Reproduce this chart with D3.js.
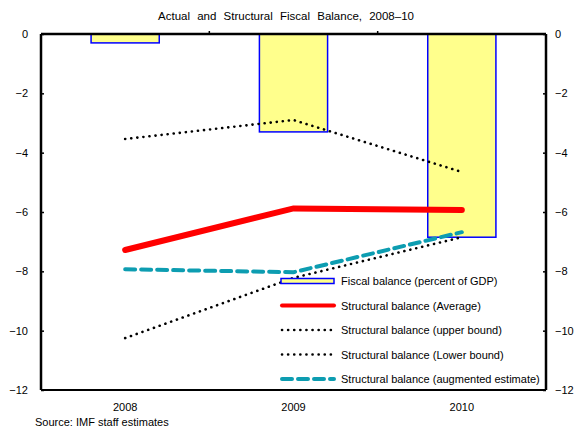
<!DOCTYPE html>
<html>
<head>
<meta charset="utf-8">
<script src="https://cdn.jsdelivr.net/npm/d3@7"></script>
<style>
  body { margin: 0; background: #fff; }
  text { font-family: "Liberation Sans", Arial, sans-serif; }
</style>
</head>
<body>
<script>
// data
const years = ["2008", "2009", "2010"];
const fiscalBalance = [-0.3, -3.3, -6.85];
const structAverage = [-7.28, -5.88, -5.93];
const structUpper = [-3.54, -2.9, -4.65];
const structLower = [-10.25, -8.22, -6.85];
const structAugmented = [-7.93, -8.03, -6.68];
const yTicks = [0, -2, -4, -6, -8, -10, -12];

const legendItems = [
  { label: "Fiscal balance (percent of GDP)", type: "bar" },
  { label: "Structural balance (Average)", type: "line", color: "#ff0000", width: 6, dash: null },
  { label: "Structural balance (upper bound)", type: "line", color: "#000", width: 2.6, dash: "0.1 6" },
  { label: "Structural balance (Lower bound)", type: "line", color: "#000", width: 2.6, dash: "0.1 6" },
  { label: "Structural balance (augmented estimate)", type: "line", color: "#0d9db1", width: 4, dash: "10 6" }
];

function draw() {
  const W = 578, H = 429;
  const margin = { top: 34, right: 32, bottom: 39, left: 41 };
  const width = W - margin.left - margin.right,
        height = H - margin.top - margin.bottom;

  const svg = d3.select("body").append("svg")
    .attr("width", W).attr("height", H);

  svg.append("text")
    .attr("x", 286).attr("y", 20)
    .attr("text-anchor", "middle")
    .attr("font-size", 11.5)
    .attr("word-spacing", 4)
    .text("Actual and Structural Fiscal Balance, 2008\u201310");

  const g = svg.append("g")
    .attr("transform", "translate(" + margin.left + "," + margin.top + ")");

  const x = d3.scaleBand().domain(years).range([0, width]).padding(0);
  const y = d3.scaleLinear().domain([-12, 0]).range([height, 0]);
  const cx = d => x(d) + x.bandwidth() / 2;
  const barW = x.bandwidth() * 0.405;

  // bars
  g.selectAll("rect.bar")
    .data(years.map((d, i) => ({ year: d, v: fiscalBalance[i] })))
    .enter().append("rect")
    .attr("class", "bar")
    .attr("x", d => cx(d.year) - barW / 2)
    .attr("y", y(0))
    .attr("width", barW)
    .attr("height", d => y(d.v) - y(0))
    .attr("fill", "#ffff8c")
    .attr("stroke", "#0000ff")
    .attr("stroke-width", 1.5);

  const line = d3.line()
    .x((d, i) => cx(years[i]))
    .y(d => y(d));

  const series = [
    { values: structUpper, item: legendItems[2] },
    { values: structLower, item: legendItems[3] },
    { values: structAverage, item: legendItems[1] },
    { values: structAugmented, item: legendItems[4] }
  ];

  series.forEach(s => {
    g.append("path")
      .datum(s.values)
      .attr("d", line)
      .attr("fill", "none")
      .attr("stroke", s.item.color)
      .attr("stroke-width", s.item.width)
      .attr("stroke-linecap", "round")
      .attr("stroke-dasharray", s.item.dash);
  });

  // axes
  const left = g.append("g").call(d3.axisLeft(y).tickValues(yTicks).tickSize(-3).tickPadding(13).tickFormat(d3.format("d")));
  const right = g.append("g").attr("transform", "translate(" + width + ",0)")
    .call(d3.axisRight(y).tickValues(yTicks).tickSize(-3).tickPadding(12).tickFormat(d3.format("d")));
  [left, right].forEach(a => {
    a.select(".domain").remove();
    a.selectAll("text").attr("font-size", 11).attr("fill", "#000").style("font-family", "Liberation Sans, Arial, sans-serif");
    a.selectAll("line").attr("stroke", "#000").attr("stroke-width", 1.5);
  });
  right.selectAll("text").attr("x", 9);

  // top category separators
  g.selectAll("line.sep")
    .data(years.slice(1))
    .enter().append("line")
    .attr("x1", d => x(d)).attr("x2", d => x(d))
    .attr("y1", 0).attr("y2", -3)
    .attr("stroke", "#000").attr("stroke-width", 1.5);

  // frame
  g.append("line").attr("x1", 0).attr("x2", width).attr("y1", 0).attr("y2", 0)
    .attr("stroke", "#000").attr("stroke-width", 2.5);
  g.append("line").attr("x1", 0).attr("x2", 0).attr("y1", 0).attr("y2", height)
    .attr("stroke", "#000").attr("stroke-width", 2.5);
  g.append("line").attr("x1", width).attr("x2", width).attr("y1", 0).attr("y2", height)
    .attr("stroke", "#000").attr("stroke-width", 2.5);
  g.append("line").attr("x1", 0).attr("x2", width).attr("y1", height).attr("y2", height)
    .attr("stroke", "#000").attr("stroke-width", 2);

  // bottom category labels
  const bottom = g.append("g").attr("transform", "translate(0," + height + ")")
    .call(d3.axisBottom(x).tickSize(0).tickPadding(13));
  bottom.select(".domain").remove();
  bottom.selectAll("text").attr("font-size", 11).attr("fill", "#000").style("font-family", "Liberation Sans, Arial, sans-serif");

  // legend
  const lg = svg.append("g").attr("transform", "translate(280,281)");
  const rowH = 24.5;
  legendItems.forEach((it, i) => {
    const row = lg.append("g").attr("transform", "translate(0," + (i * rowH) + ")");
    if (it.type === "bar") {
      row.append("rect").attr("x", 1).attr("y", -2.5).attr("width", 53).attr("height", 5)
        .attr("fill", "#ffff8c").attr("stroke", "#0000ff").attr("stroke-width", 1.5);
    } else {
      row.append("line").attr("x1", 2).attr("x2", 54).attr("y1", 0).attr("y2", 0)
        .attr("stroke", it.color)
        .attr("stroke-width", it.width === 6 ? 4 : it.width)
        .attr("stroke-linecap", "round")
        .attr("stroke-dasharray", it.dash);
    }
    row.append("text").attr("x", 61).attr("y", 4)
      .attr("font-size", 11)
      .text(it.label);
  });

  svg.append("text")
    .attr("x", 35).attr("y", 426)
    .attr("font-size", 11)
    .text("Source: IMF staff estimates");
}

window.addEventListener("load", draw);
</script>
</body>
</html>
